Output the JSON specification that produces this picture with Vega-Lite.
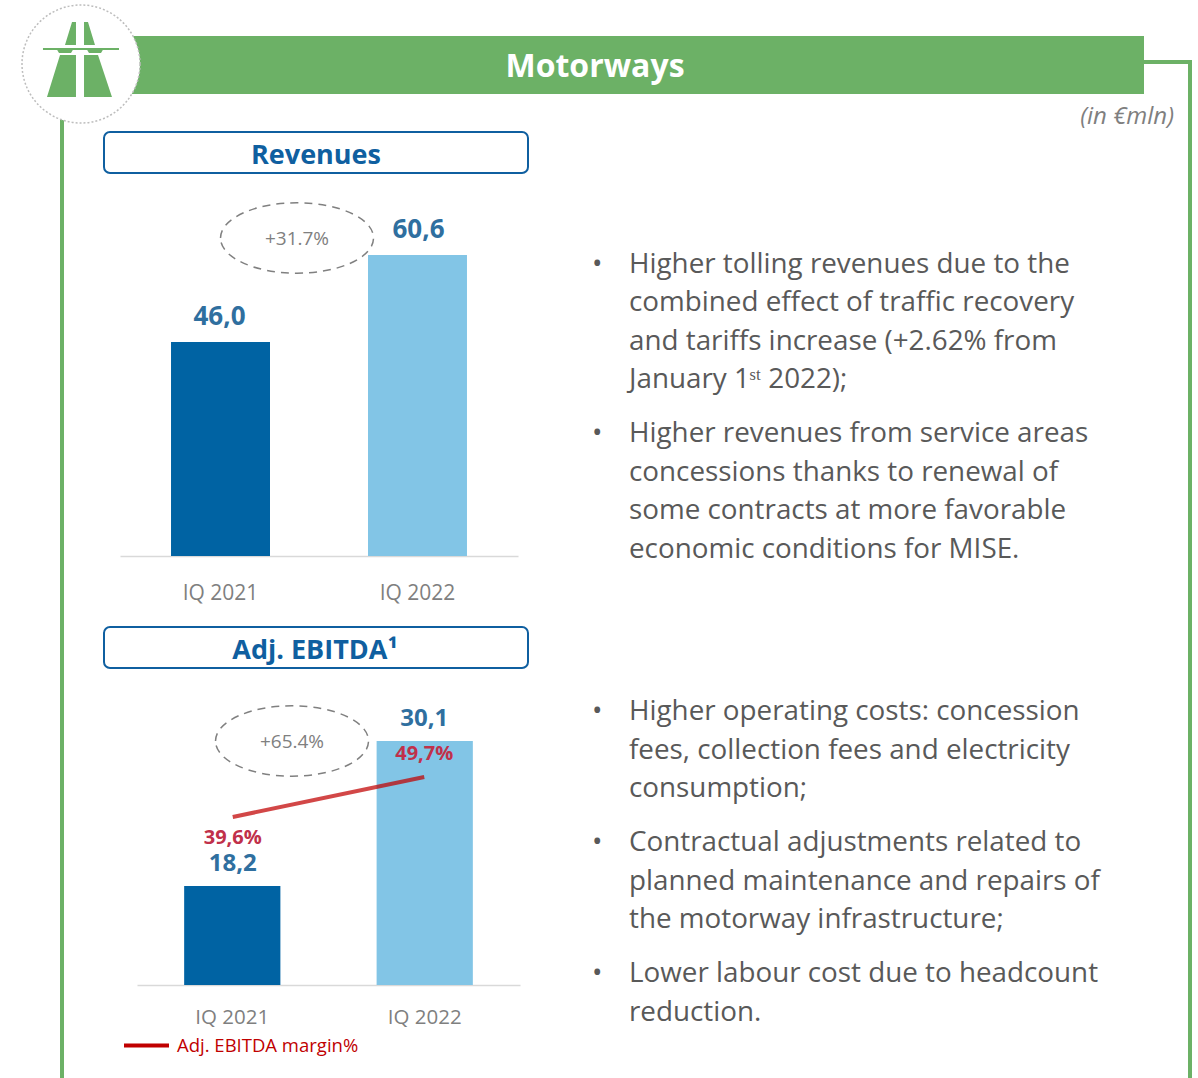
{
"$schema":"https://vega.github.io/schema/vega-lite/v6.json",
"width":1198,"height":1078,"padding":0,"autosize":{"type":"none"},"background":"white",
"config":{"view":{"stroke":null},"font":"Open Sans"},
"resolve":{"scale":{"x":"independent","y":"independent","color":"independent"},"axis":{"x":"independent","y":"independent"},"legend":{"color":"independent"}},
"layer":[
{"data":{"values":[{"step":1},{"step":2},{"step":3}]},
 "mark":{"type":"line","stroke":"#6cb166","strokeWidth":4},
 "encoding":{"x":{"field":"step","type":"quantitative","axis":null,"scale":{"domain":[1,2,3],"range":[1144,1190,1190],"zero":false,"nice":false}},
 "y":{"field":"step","type":"quantitative","axis":null,"scale":{"domain":[1,2,3],"range":[62,62,1078],"zero":false,"nice":false}}}},
{"data":{"values":[{"step":1},{"step":2}]},
 "mark":{"type":"line","stroke":"#6cb166","strokeWidth":4},
 "encoding":{"x":{"field":"step","type":"quantitative","axis":null,"scale":{"domain":[1,2],"range":[62,62],"zero":false,"nice":false}},
 "y":{"field":"step","type":"quantitative","axis":null,"scale":{"domain":[1,2],"range":[100,1078],"zero":false,"nice":false}}}},
{"data":{"values":[{"section":"Motorways"}]},
 "mark":{"type":"rect","fill":"#6cb166","width":1014,"height":58},
 "encoding":{"x":{"field":"section","type":"nominal","axis":null,"scale":{"type":"point","padding":0,"domain":["Motorways"],"range":[637,637]}},
 "y":{"field":"section","type":"nominal","axis":null,"scale":{"type":"point","padding":0,"domain":["Motorways"],"range":[65,65]}}}},
{"data":{"values":[{"section":"Motorways"}]},
 "mark":{"type":"text","fill":"white","fontSize":32,"fontWeight":"bold","align":"center","baseline":"middle"},
 "encoding":{"text":{"field":"section"},"x":{"field":"section","type":"nominal","axis":null,"scale":{"type":"point","padding":0,"domain":["Motorways"],"range":[595,595]}},
 "y":{"field":"section","type":"nominal","axis":null,"scale":{"type":"point","padding":0,"domain":["Motorways"],"range":[67,67]}}}},
{"data":{"values":[{"section":"Motorways"}]},
 "mark":{"type":"point","shape":"circle","filled":true,"fill":"white","stroke":"#bdbdbd","strokeWidth":1.5,"strokeDash":[2,2],"opacity":1,"size":13924},
 "encoding":{"x":{"field":"section","type":"nominal","axis":null,"scale":{"type":"point","padding":0,"domain":["Motorways"],"range":[81,81]}},
 "y":{"field":"section","type":"nominal","axis":null,"scale":{"type":"point","padding":0,"domain":["Motorways"],"range":[64,64]}}}},
{"data":{"values":[{"section":"Motorways"}]},
 "mark":{"type":"point","filled":true,"fill":"#6cb166","opacity":1,"strokeWidth":0,"size":14400,
 "shape":"M-.55,.533L-.067,.533L-.067,-.167L-.333,-.167ZM.067,.533L.533,.533L.3,-.167L.067,-.167ZM-.25,-.333L-.067,-.333L-.067,-.717L-.133,-.717ZM.067,-.717L.133,-.717L.25,-.333L.067,-.333ZM-.617,-.283L.65,-.283L.65,-.25L.38,-.25L.35,-.2L.15,-.2L.12,-.25L-.12,-.25L-.15,-.2L-.35,-.2L-.38,-.25L-.617,-.25Z"},
 "encoding":{"x":{"field":"section","type":"nominal","axis":null,"scale":{"type":"point","padding":0,"domain":["Motorways"],"range":[80,80]}},
 "y":{"field":"section","type":"nominal","axis":null,"scale":{"type":"point","padding":0,"domain":["Motorways"],"range":[65,65]}}}},
{"data":{"values":[{"unit":"(in €mln)"}]},
 "mark":{"type":"text","fill":"#7f7f7f","fontSize":24,"fontStyle":"italic","align":"right","baseline":"middle"},
 "encoding":{"text":{"field":"unit"},"x":{"field":"unit","type":"nominal","axis":null,"scale":{"type":"point","padding":0,"domain":["(in €mln)"],"range":[1174,1174]}},
 "y":{"field":"unit","type":"nominal","axis":null,"scale":{"type":"point","padding":0,"domain":["(in €mln)"],"range":[117,117]}}}},
{"data":{"values":[{"panel":"Revenues"},{"panel":"Adj. EBITDA"}]},
 "mark":{"type":"rect","fill":"white","stroke":"#0f5fa0","strokeWidth":2,"cornerRadius":6,"width":424,"height":41},
 "encoding":{"x":{"field":"panel","type":"nominal","axis":null,"scale":{"type":"point","padding":0,"domain":["Revenues","Adj. EBITDA"],"range":[316,316]}},
 "y":{"field":"panel","type":"nominal","axis":null,"scale":{"type":"point","padding":0,"domain":["Revenues","Adj. EBITDA"],"range":[152.5,647.5]}}}},
{"data":{"values":[{"panel":"Revenues","title":"Revenues"},{"panel":"Adj. EBITDA","title":"Adj. EBITDA¹"}]},
 "mark":{"type":"text","fill":"#0f5fa0","fontSize":27,"fontWeight":"bold","align":"center","baseline":"middle"},
 "encoding":{"text":{"field":"title"},"x":{"field":"panel","type":"nominal","axis":null,"scale":{"type":"point","padding":0,"domain":["Revenues","Adj. EBITDA"],"range":[316,315]}},
 "y":{"field":"panel","type":"nominal","axis":null,"scale":{"type":"point","padding":0,"domain":["Revenues","Adj. EBITDA"],"range":[156,651]}}}},
{"data":{"values":[{"quarter":"IQ 2021","revenues":46.0},{"quarter":"IQ 2022","revenues":60.6}]},
 "mark":{"type":"bar"},
 "encoding":{"x":{"field":"quarter","type":"nominal","title":null,"scale":{"domain":["IQ 2021","IQ 2022"],"range":[120,518],"paddingInner":0.4975,"paddingOuter":0.259},
  "axis":{"orient":"bottom","offset":-522,"labelAngle":0,"ticks":false,"domainColor":"#d9d9d9","domainWidth":1.5,"labelColor":"#7f7f7f","labelFontSize":21,"labelPadding":37,"labelBaseline":"middle","grid":false}},
 "y":{"field":"revenues","type":"quantitative","axis":null,"stack":null,"scale":{"domain":[10.1,60.6],"range":[556,255],"zero":false,"nice":false}},
 "y2":{"datum":10.1},
 "color":{"field":"quarter","type":"nominal","legend":null,"scale":{"domain":["IQ 2021","IQ 2022"],"range":["#0063a3","#82c5e6"]}}}},
{"data":{"values":[{"quarter":"IQ 2021","revenues":46.0,"label":"46,0"},{"quarter":"IQ 2022","revenues":60.6,"label":"60,6"}]},
 "mark":{"type":"text","fill":"#2f6f9f","fontSize":26,"fontWeight":"bold","align":"center","baseline":"middle","dy":-25},
 "encoding":{"text":{"field":"label"},"x":{"field":"quarter","type":"nominal","axis":null,"scale":{"domain":["IQ 2021","IQ 2022"],"range":[120,518],"paddingInner":0.4975,"paddingOuter":0.259}},
 "y":{"field":"revenues","type":"quantitative","axis":null,"scale":{"domain":[10.1,60.6],"range":[556,255],"zero":false,"nice":false}}}},
{"data":{"values":[{"panel":"Revenues"},{"panel":"Adj. EBITDA"}]},
 "mark":{"type":"point","filled":false,"stroke":"#808080","strokeWidth":1.5,"strokeDash":[8,6],"opacity":1,"size":23409,"shape":"M-1,0A1,.46 0 1 1 1,0A1,.46 0 1 1 -1,0Z"},
 "encoding":{"x":{"field":"panel","type":"nominal","axis":null,"scale":{"type":"point","padding":0,"domain":["Revenues","Adj. EBITDA"],"range":[297,292]}},
 "y":{"field":"panel","type":"nominal","axis":null,"scale":{"type":"point","padding":0,"domain":["Revenues","Adj. EBITDA"],"range":[238,741]}}}},
{"data":{"values":[{"panel":"Revenues","change":"+31.7%"},{"panel":"Adj. EBITDA","change":"+65.4%"}]},
 "mark":{"type":"text","fill":"#808080","fontSize":19,"align":"center","baseline":"middle"},
 "encoding":{"text":{"field":"change"},"x":{"field":"panel","type":"nominal","axis":null,"scale":{"type":"point","padding":0,"domain":["Revenues","Adj. EBITDA"],"range":[297,292]}},
 "y":{"field":"panel","type":"nominal","axis":null,"scale":{"type":"point","padding":0,"domain":["Revenues","Adj. EBITDA"],"range":[239,742]}}}},
{"data":{"values":[{"quarter":"IQ 2021","ebitda":18.2},{"quarter":"IQ 2022","ebitda":30.1}]},
 "mark":{"type":"bar"},
 "encoding":{"x":{"field":"quarter","type":"nominal","title":null,"scale":{"domain":["IQ 2021","IQ 2022"],"range":[137,520],"paddingInner":0.5,"paddingOuter":0.245},
  "axis":{"orient":"bottom","offset":-93,"labelAngle":0,"ticks":false,"domainColor":"#d9d9d9","domainWidth":1.5,"labelColor":"#7f7f7f","labelFontSize":20.5,"labelPadding":32,"labelBaseline":"middle","grid":false}},
 "y":{"field":"ebitda","type":"quantitative","axis":null,"stack":null,"scale":{"domain":[10.07,30.1],"range":[985,741],"zero":false,"nice":false}},
 "y2":{"datum":10.07},
 "color":{"field":"quarter","type":"nominal","legend":null,"scale":{"domain":["IQ 2021","IQ 2022"],"range":["#0063a3","#82c5e6"]}}}},
{"data":{"values":[{"quarter":"IQ 2021","ebitda":18.2,"label":"18,2"},{"quarter":"IQ 2022","ebitda":30.1,"label":"30,1"}]},
 "mark":{"type":"text","fill":"#2f6f9f","fontSize":24,"fontWeight":"bold","align":"center","baseline":"middle","dy":-22},
 "encoding":{"text":{"field":"label"},"x":{"field":"quarter","type":"nominal","axis":null,"scale":{"domain":["IQ 2021","IQ 2022"],"range":[137,520],"paddingInner":0.5,"paddingOuter":0.245}},
 "y":{"field":"ebitda","type":"quantitative","axis":null,"scale":{"domain":[10.07,30.1],"range":[985,741],"zero":false,"nice":false}}}},
{"data":{"values":[{"quarter":"IQ 2021","margin":39.6,"series":"Adj. EBITDA margin%"},{"quarter":"IQ 2022","margin":49.7,"series":"Adj. EBITDA margin%"}]},
 "mark":{"type":"line","strokeWidth":4,"opacity":0.72},
 "encoding":{"x":{"field":"quarter","type":"nominal","axis":null,"scale":{"domain":["IQ 2021","IQ 2022"],"range":[137,520],"paddingInner":0.5,"paddingOuter":0.245}},
 "y":{"field":"margin","type":"quantitative","axis":null,"scale":{"domain":[39.6,49.7],"range":[817,777],"zero":false,"nice":false}},
 "color":{"field":"series","type":"nominal","scale":{"domain":["Adj. EBITDA margin%"],"range":["#c00000"]},
  "legend":{"orient":"none","legendX":122,"legendY":1021,"title":null,"symbolType":"stroke","symbolSize":2025,"symbolStrokeWidth":4,"symbolOpacity":1,"labelColor":"#c00000","labelFontSize":18.5,"labelOpacity":1,"labelOffset":6,"labelLimit":300,"padding":0}}}},
{"data":{"values":[{"quarter":"IQ 2021","margin":39.6,"label":"39,6%"},{"quarter":"IQ 2022","margin":49.7,"label":"49,7%"}]},
 "mark":{"type":"text","fill":"#c0304a","fontSize":20,"fontWeight":"bold","align":"center","baseline":"middle"},
 "encoding":{"text":{"field":"label"},"x":{"field":"quarter","type":"nominal","axis":null,"scale":{"domain":["IQ 2021","IQ 2022"],"range":[137,520],"paddingInner":0.5,"paddingOuter":0.245}},
 "y":{"field":"margin","type":"quantitative","axis":null,"scale":{"domain":[39.6,49.7],"range":[838,754],"zero":false,"nice":false}}}},
{"data":{"values":[
 {"kind":"bullet","line":1,"text":"•"},{"kind":"bullet","line":5,"text":"•"},{"kind":"bullet","line":9,"text":"•"},{"kind":"bullet","line":12,"text":"•"},{"kind":"bullet","line":15,"text":"•"},
 {"kind":"body","line":1,"text":"Higher tolling revenues due to the"},
 {"kind":"body","line":2,"text":"combined effect of traffic recovery"},
 {"kind":"body","line":3,"text":"and tariffs increase (+2.62% from"},
 {"kind":"body","line":4,"text":"January 1ˢᵗ 2022);"},
 {"kind":"body","line":5,"text":"Higher revenues from service areas"},
 {"kind":"body","line":6,"text":"concessions thanks to renewal of"},
 {"kind":"body","line":7,"text":"some contracts at more favorable"},
 {"kind":"body","line":8,"text":"economic conditions for MISE."},
 {"kind":"body","line":9,"text":"Higher operating costs: concession"},
 {"kind":"body","line":10,"text":"fees, collection fees and electricity"},
 {"kind":"body","line":11,"text":"consumption;"},
 {"kind":"body","line":12,"text":"Contractual adjustments related to"},
 {"kind":"body","line":13,"text":"planned maintenance and repairs of"},
 {"kind":"body","line":14,"text":"the motorway infrastructure;"},
 {"kind":"body","line":15,"text":"Lower labour cost due to headcount"},
 {"kind":"body","line":16,"text":"reduction."}
 ]},
 "mark":{"type":"text","fill":"#595959","fontSize":27.8,"align":"left","baseline":"middle"},
 "encoding":{"text":{"field":"text"},"x":{"field":"kind","type":"nominal","axis":null,"scale":{"type":"point","padding":0,"domain":["bullet","body"],"range":[592,629]}},
 "y":{"field":"line","type":"quantitative","axis":null,"scale":{"domain":[1,4,5,8,9,11,12,14,15,16],"range":[265,380,434,550,712,789,843,920,974,1013],"zero":false,"nice":false}}}}
]
}
